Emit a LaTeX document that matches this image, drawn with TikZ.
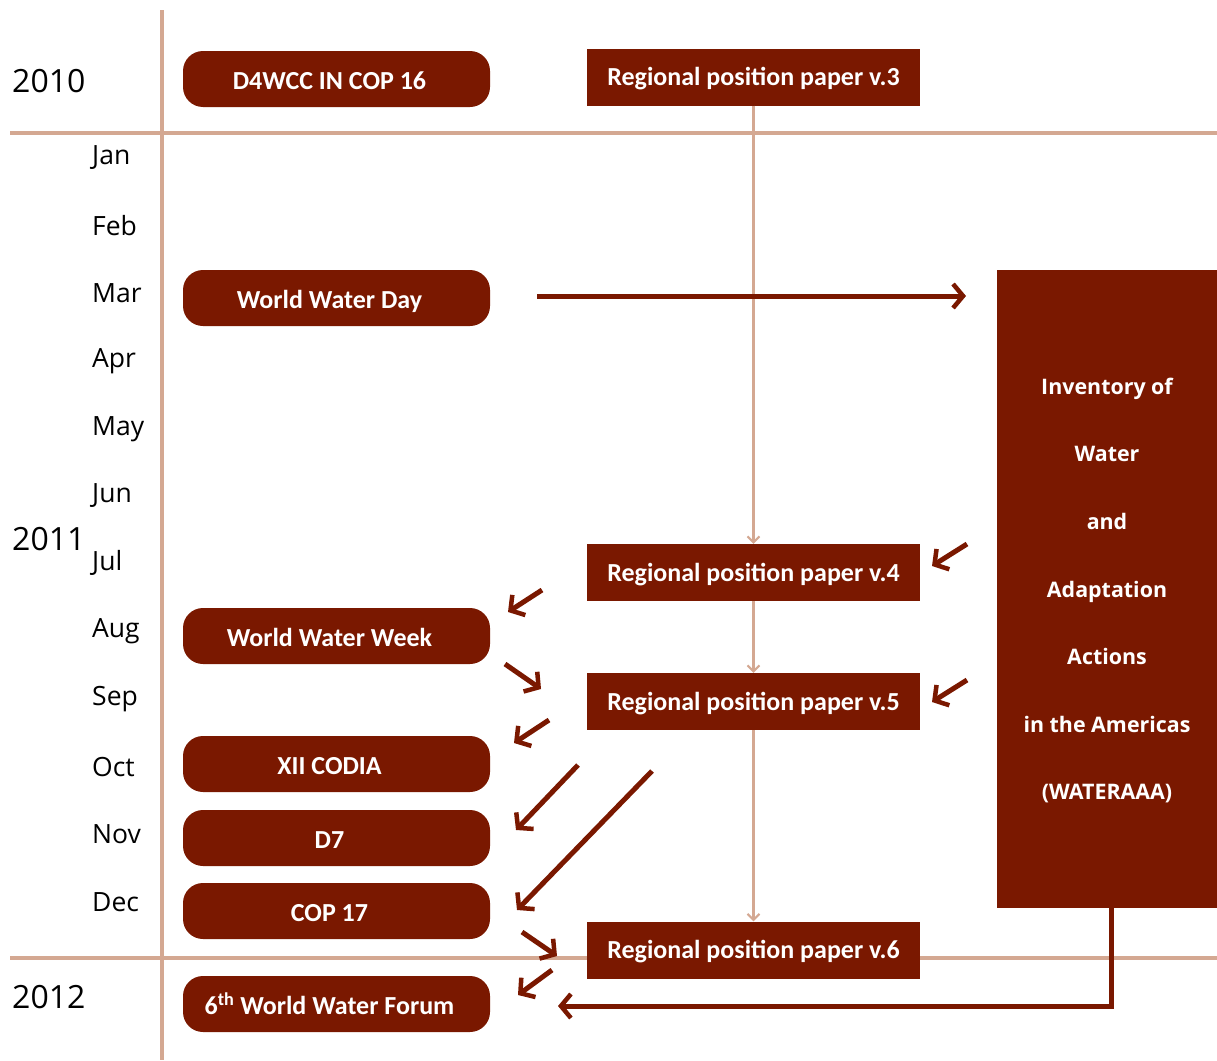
\documentclass[tikz,border=0pt]{standalone}
\usepackage{fontspec}
\setmainfont{Open Sans}
\newfontfamily\boxfont{Carlito}
\newfontfamily\tallfont{Open Sans}
\usetikzlibrary{arrows.meta}
\definecolor{dred}{RGB}{122,24,0}
\definecolor{tan}{RGB}{212,168,146}
\tikzset{
  rbox/.style={fill=dred, rounded corners=20pt, minimum width=307pt, minimum height=56pt, inner sep=0pt,
     text height=21pt, text depth=0pt,
     text=white, font=\boxfont\bfseries\fontsize{26}{28}\selectfont},
  sbox/.style={fill=dred, minimum width=333pt, minimum height=57pt, inner sep=0pt,
     text height=17pt, text depth=0pt,
     text=white, font=\boxfont\bfseries\fontsize{26}{28}\selectfont},
  tallbox/.style={fill=dred, minimum width=220pt, minimum height=638pt, inner sep=0pt, text=white,
     text depth=0pt, align=center, font=\tallfont\bfseries\fontsize{21.4}{67.6}\selectfont},
  month/.style={anchor=west, inner sep=0pt, yshift=-2pt, font=\fontsize{26.5}{28}\selectfont},
  year/.style={anchor=west, inner sep=0pt, yshift=-2pt, font=\fontsize{32}{34}\selectfont},
  grid/.style={tan, line width=4pt},
  flow/.style={tan, line width=3pt, -{Straight Barb[length=6pt,width=12pt,line width=2pt]}},
  darr/.style={dred, line width=5pt, -{Straight Barb[length=10pt,width=24pt,line width=4.5pt]}},
}
\begin{document}
\begin{tikzpicture}[x=1pt,y=-1pt]
\useasboundingbox (0,0) rectangle (1217,1060);
% grid lines
\coordinate (vt) at (162,10); \coordinate (vb) at (162,1060);
\coordinate (h1l) at (10,133); \coordinate (h1r) at (1217,133);
\coordinate (h2l) at (10,958); \coordinate (h2r) at (1217,958);
\draw[grid] (vt) -- (vb);
\draw[grid] (h1l) -- (h1r);
\draw[grid] (h2l) -- (h2r);
% years
\node[year] (y10) at (12,79) {2010};
\node[year] (y11) at (12,537) {2011};
\node[year] (y12) at (12,995) {2012};
% months
\foreach \m/\y in {Jan/156,Feb/224,Mar/291,Apr/359,May/427,Jun/494,Jul/561,Aug/629,Sep/697,Oct/765,Nov/832,Dec/900}
  \node[month] (m\m) at (92,\y) {\m};
% rounded boxes
\node[rbox] (d4) at (336.5,79) {\hspace*{-14pt}D4WCC IN COP 16};
\node[rbox] (wwd) at (336.5,298) {\hspace*{-14pt}World Water Day};
\node[rbox] (www) at (336.5,636) {\hspace*{-14pt}World Water Week};
\node[rbox] (codia) at (336.5,764) {\hspace*{-14pt}XII CODIA};
\node[rbox] (d7) at (336.5,838) {\hspace*{-14pt}D7};
\node[rbox] (cop) at (336.5,911) {\hspace*{-14pt}COP 17};
\node[rbox] (wwf) at (336.5,1004) {\hspace*{-14pt}6\textsuperscript{th} World Water Forum};
% square boxes
\node[sbox] (p3) at (753.5,77) {Regional position paper v.3};
\node[sbox] (p4) at (753.5,572.5) {Regional position paper v.4};
\node[sbox] (p5) at (753.5,701.5) {Regional position paper v.5};
\node[sbox] (p6) at (753.5,950) {Regional position paper v.6};
% tall box
\node[tallbox] (inv) at (1107,589) {Inventory of\\Water\\and\\Adaptation\\Actions\\in the Americas\\(WATERAAA)};
% tan flow
\draw[flow] (p3) -- (p4);
\draw[flow] (p4) -- (p5);
\draw[flow] (p5) -- (p6);
% dark arrows
\coordinate (a1s) at (537,296); \coordinate (a1e) at (966,296);
\draw[darr] (a1s) -- (a1e);
\coordinate (b1s) at (967,544); \coordinate (b1e) at (932,566);
\draw[darr] (b1s) -- (b1e);
\coordinate (b2s) at (967,680); \coordinate (b2e) at (932,702);
\draw[darr] (b2s) -- (b2e);
\coordinate (c1s) at (542,590); \coordinate (c1e) at (508,612);
\draw[darr] (c1s) -- (c1e);
\coordinate (c2s) at (505,664); \coordinate (c2e) at (541,689);
\draw[darr] (c2s) -- (c2e);
\coordinate (c3s) at (549,720); \coordinate (c3e) at (514,743);
\draw[darr] (c3s) -- (c3e);
\coordinate (c4s) at (578,765); \coordinate (c4e) at (516,830);
\draw[darr] (c4s) -- (c4e);
\coordinate (c5s) at (652,771); \coordinate (c5e) at (517,910);
\draw[darr] (c5s) -- (c5e);
\coordinate (c6s) at (522,932); \coordinate (c6e) at (557,956);
\draw[darr] (c6s) -- (c6e);
\coordinate (c7s) at (552,970); \coordinate (c7e) at (518,995);
\draw[darr] (c7s) -- (c7e);
\coordinate (e1) at (558,1006);
\draw[darr] (inv.south -| 1111,0) |- (e1);
\end{tikzpicture}
\end{document}
